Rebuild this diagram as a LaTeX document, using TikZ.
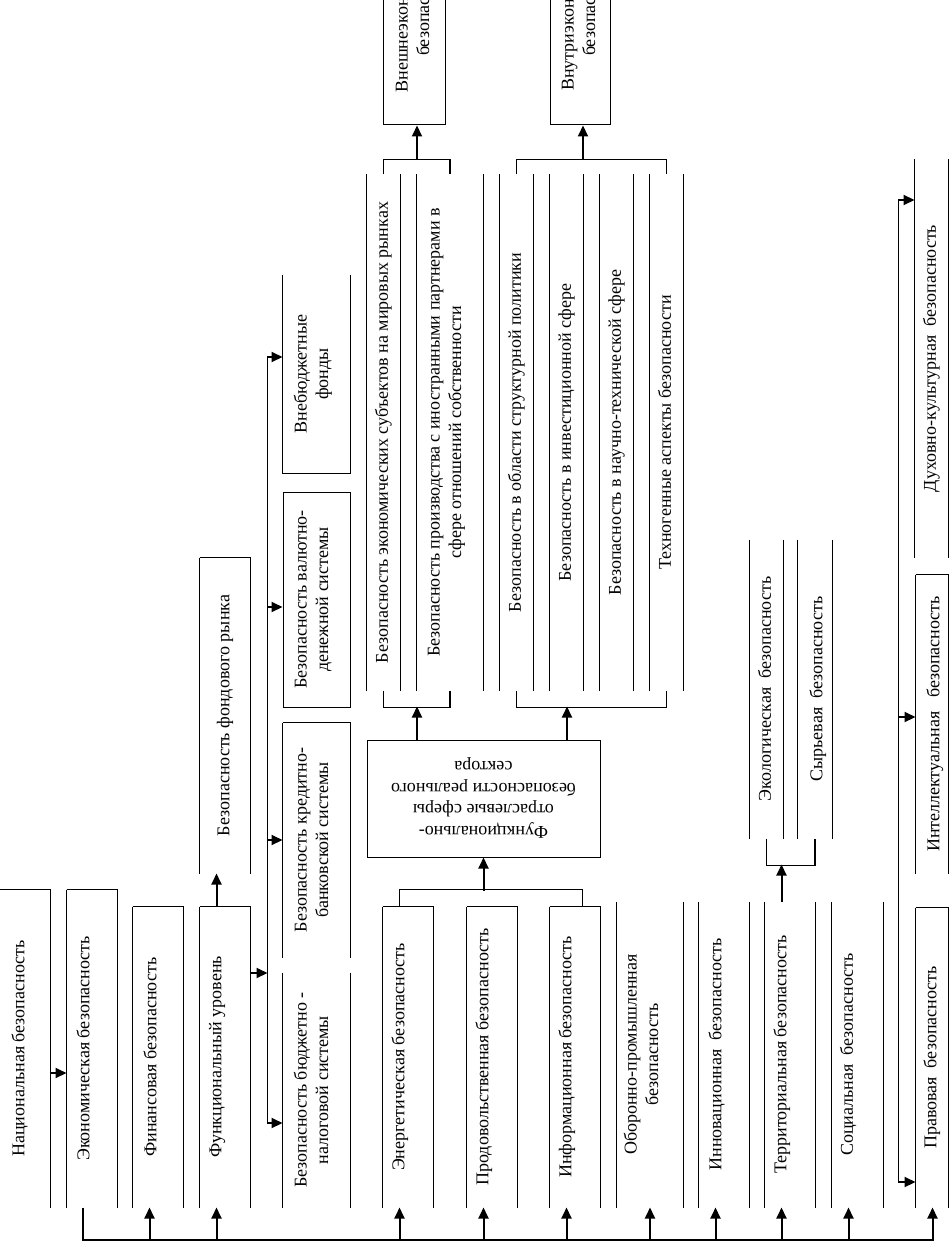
\documentclass[tikz,border=0pt]{standalone}
\usepackage{fontspec}
\setmainfont{Liberation Serif}
\usepackage{graphicx}
\usetikzlibrary{arrows.meta}
\tikzset{
  sidebox/.style={
    inner sep=0pt, line width=1pt,
    append after command={
      (\tikzlastnode.north west) edge (\tikzlastnode.south west)
      (\tikzlastnode.north east) edge (\tikzlastnode.south east)},
  },
  topbox/.style={sidebox,
    append after command={(\tikzlastnode.north west) edge (\tikzlastnode.north east)}},
  botbox/.style={sidebox,
    append after command={(\tikzlastnode.south west) edge (\tikzlastnode.south east)}},
  fullbox/.style={draw, inner sep=0pt, line width=1pt},
  arr/.style={line width=2pt},
  link/.style={line width=1pt},
  bus/.style={line width=1.6pt},
}
\newcommand{\vtext}[2][0pt]{\rotatebox{90}{\begin{tabular}{@{}c@{}}#2\end{tabular}}\hspace*{#1}}

\begin{document}
\begin{tikzpicture}[x=1pt,y=-1pt,>={Triangle[length=11pt,width=10pt]},
    font=\fontsize{18}{21.5}\selectfont]
  \path[use as bounding box,clip] (0,0) rectangle (949,1241);

  % left column
  \node[topbox, minimum width=50pt, minimum height=317pt] (nat) at (25,1048.5)
    {\vtext[10pt]{Национальная безопасность}};
  \node[topbox, minimum width=50pt, minimum height=317pt] (econ) at (92,1048.5)
    {\vtext[14pt]{Экономическая безопасность}};
  \node[topbox, minimum width=50pt, minimum height=300pt] (fin) at (158,1057)
    {\vtext[12pt]{Финансовая безопасность}};
  \node[topbox, minimum width=50pt, minimum height=300pt] (func) at (225,1057)
    {\vtext[16pt]{Функциональный уровень}};
  \node[topbox, minimum width=50pt, minimum height=315pt] (stock) at (225,715.5)
    {\vtext{Безопасность фондового рынка}};

  % financial systems
  \node[sidebox, minimum width=67pt, minimum height=234pt] (budget) at (316.5,1090)
    {\vtext[7pt]{Безопасность бюджетно -\\налоговой системы}};
  \node[topbox, minimum width=67pt, minimum height=234pt] (credit) at (316.5,840)
    {\vtext[7pt]{Безопасность кредитно-\\банковской системы}};
  \node[fullbox, minimum width=67pt, minimum height=215pt] (currency) at (316.5,599.5)
    {\vtext[7pt]{Безопасность валютно-\\денежной системы}};
  \node[botbox, minimum width=67pt, minimum height=198pt] (offbudget) at (316.5,374)
    {\vtext[7pt]{Внебюджетные\\фонды}};

  % sectors
  \node[topbox, minimum width=50pt, minimum height=300pt] (energy) at (408,1057)
    {\vtext[16pt]{Энергетическая безопасность}};
  \node[topbox, minimum width=50pt, minimum height=300pt] (food) at (492,1057)
    {\vtext[16pt]{Продовольственная безопасность}};
  \node[topbox, minimum width=50pt, minimum height=300pt] (info) at (575,1057)
    {\vtext[16pt]{Информационная безопасность}};
  \node[sidebox, minimum width=66pt, minimum height=305pt] (defense) at (650,1054.5)
    {\vtext[14pt]{Оборонно-промышленная\\безопасность}};
  \node[sidebox, minimum width=50pt, minimum height=305pt] (innov) at (724,1054.5)
    {\vtext[14pt]{Инновационная\ \ безопасность}};
  \node[sidebox, minimum width=50pt, minimum height=305pt] (terr) at (790,1054.5)
    {\vtext[16pt]{Территориальная безопасность}};
  \node[sidebox, minimum width=51pt, minimum height=305pt] (social) at (857.5,1054.5)
    {\vtext[18pt]{Социальная\ \ безопасность}};
  \node[topbox, minimum width=32pt, minimum height=299pt] (law) at (932,1057.5)
    {\vtext{Правовая\ \ безопасность}};
  \node[topbox, minimum width=32pt, minimum height=298pt] (intel) at (932,724)
    {\vtext[-6pt]{Интеллектуальная\ \ \ безопасность}};
  \node[sidebox, minimum width=33pt, minimum height=397pt] (spirit) at (931.5,358.5)
    {\vtext{Духовно-культурная\ \ безопасность}};
  \node[sidebox, minimum width=33pt, minimum height=298pt] (ecol) at (766.5,689)
    {\vtext{Экологическая\ \ безопасность}};
  \node[sidebox, minimum width=34pt, minimum height=298pt] (raw) at (815,689)
    {\vtext[-6pt]{Сырьевая\ \ безопасность}};

  % real sector
  \node[fullbox, minimum width=233pt, minimum height=117pt] (sector) at (483.5,798.5)
    {\rotatebox{180}{\begin{tabular}{@{}c@{}}Функционально-\\отраслевые сферы\\безопасности реального\\сектора\end{tabular}}};
  \node[sidebox, minimum width=33pt, minimum height=515pt] (markets) at (383.5,432.5)
    {\vtext{Безопасность экономических субъектов на мировых рынках}};
  \node[sidebox, minimum width=66pt, minimum height=515pt] (prod) at (450,432.5)
    {\vtext[8pt]{Безопасность производства с иностранными партнерами в\\сфере отношений собственности}};
  \node[sidebox, minimum width=33pt, minimum height=515pt] (struct) at (516.5,432.5)
    {\vtext{Безопасность в области структурной политики}};
  \node[sidebox, minimum width=33pt, minimum height=515pt] (invest) at (566.5,432.5)
    {\vtext{Безопасность в инвестиционной сфере}};
  \node[sidebox, minimum width=33pt, minimum height=515pt] (science) at (616.5,432.5)
    {\vtext{Безопасность в научно-технической сфере}};
  \node[sidebox, minimum width=33pt, minimum height=515pt] (techno) at (666.5,432.5)
    {\vtext{Техногенные аспекты безопасности}};
  \node[fullbox, minimum width=62pt, minimum height=240pt] (ext) at (414,5)
    {\vtext{Внешнеэкономическая\\безопасность}};
  \node[fullbox, minimum width=60pt, minimum height=240pt] (int) at (580,5)
    {\vtext{Внутриэкономическая\\безопасность}};

  % bottom bus
  \coordinate (busL) at (83,1240);
  \coordinate (busR) at (932,1240);
  \draw[bus] (econ.south -| busL) -- (busL) -- (busR);
  \foreach \n in {fin,func,energy,food,info,innov,terr,social,law}
    \draw[arr,<-] ([xshift=17pt]\n.south west) -- ++(0,33);
  \draw[arr,<-] (defense.south) -- ++(0,33);
  \draw[arr,->] ([yshift=-24.5pt]nat.east) -- ([yshift=-24.5pt]econ.west);

  % functional level
  \draw[arr,->] ([xshift=17pt]func.north west) -- ([xshift=17pt]stock.south west);
  \draw[arr,->] ([yshift=84pt]func.east) -- ++(17,0);
  \coordinate (v1) at (267,357);
  \coordinate (v2) at (267,607);
  \coordinate (v3) at (267,840);
  \coordinate (v4) at (267,1123);
  \draw[link] (v1) -- (v4);
  \foreach \c/\n in {v1/offbudget,v2/currency,v3/credit,v4/budget}
    \draw[arr,->] (\c) -- (\c -| \n.west);

  % real sector brackets
  \draw[bus] ([xshift=17pt]energy.north west) -- ++(0,-17) -| ([xshift=33pt]info.north west);
  \draw[arr,<-] (sector.south) -- ++(0,33);
  \draw[arr,->] ([xshift=-66.5pt]sector.north) -- ++(0,-33);
  \draw[arr,->] ([xshift=83.5pt]sector.north) -- ++(0,-33);
  \draw[bus] (markets.south) -- ++(0,17) -| (prod.south);
  \draw[bus] (struct.south) -- ++(0,17) -| (techno.south);
  \draw[bus] (markets.north) -- ++(0,-15) -| (prod.north);
  \draw[bus] (struct.north) -- ++(0,-15) -| (techno.north);
  \coordinate (ta) at (417,160);
  \coordinate (tb) at (583,160);
  \draw[arr,->] (ta) -- (ta |- ext.south);
  \draw[arr,->] (tb) -- (tb |- int.south);

  % territory
  \draw[bus] (ecol.south) -- ++(0,27) -| (raw.south);
  \draw[arr,->] ([xshift=17pt]terr.north west) -- ++(0,-37);

  % right line
  \coordinate (r1) at (898,200);
  \coordinate (r2) at (898,717);
  \coordinate (r3) at (898,1182);
  \draw[link] (r1) -- (r3);
  \foreach \c/\n in {r1/spirit,r2/intel,r3/law}
    \draw[arr,->] (\c) -- (\c -| \n.west);
\end{tikzpicture}
\end{document}
